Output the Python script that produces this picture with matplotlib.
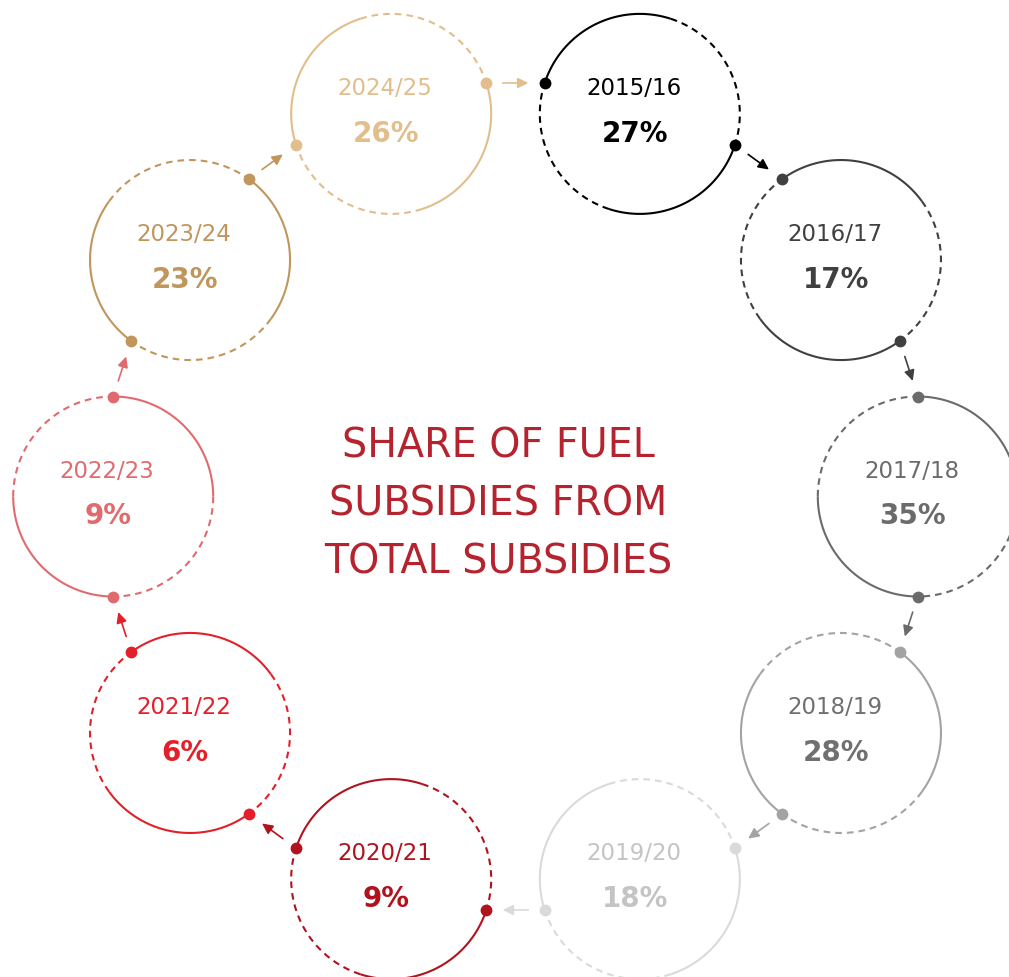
import numpy as np
import matplotlib.pyplot as plt
from matplotlib.patches import FancyArrowPatch

years = ['2015/16', '2016/17', '2017/18', '2018/19', '2019/20',
         '2020/21', '2021/22', '2022/23', '2023/24', '2024/25']
shares = [27, 17, 35, 28, 18, 9, 6, 9, 23, 26]
circle_colors = ['#000000', '#404040', '#6b6b6b', '#a3a3a3', '#dadada',
                 '#b1131d', '#e3202a', '#e06b6f', '#c0965c', '#e1be8c']
text_colors = ['#000000', '#404040', '#6b6b6b', '#707070', '#c4c4c4',
               '#b1131d', '#e3202a', '#e06b6f', '#c0965c', '#e1be8c']
title_lines = ['SHARE OF FUEL', 'SUBSIDIES FROM', 'TOTAL SUBSIDIES']
title_color = '#b5232e'

plt.rcParams['font.family'] = ['DejaVu Sans']

W, H = 1009, 978
fig = plt.figure(figsize=(W / 100, H / 100), dpi=100)
ax = fig.add_axes([0, 0, 1, 1])
ax.set_xlim(0, W)
ax.set_ylim(H, 0)
ax.axis('off')

# ring layout (pixel coords, y down)
ring_cx, ring_cy, ring_r = 515.5, 497.5, 402.3
r = 100
n = len(years)
ang = np.radians(72 - 36 * np.arange(n))
cx = ring_cx + ring_r * np.cos(ang)
cy = ring_cy - ring_r * np.sin(ang)


def pt(i, a):
    return cx[i] + r * np.cos(a), cy[i] - r * np.sin(a)


def arc(i, a0, a1, **kw):
    t = np.linspace(a0, a1, 120)
    ax.plot(cx[i] + r * np.cos(t), cy[i] - r * np.sin(t), **kw)


dash = (0, (3.2, 2.4))
for i in range(n):
    c = circle_colors[i]
    e = ang[i] + np.pi / 2
    q = np.pi / 2
    # quarters: solid / dashed alternating clockwise from the entry dot
    arc(i, e, e - q, color=c, lw=1.5, solid_capstyle='butt')
    arc(i, e - q, e - 2 * q, color=c, lw=1.5, ls=dash)
    arc(i, e - 2 * q, e - 3 * q, color=c, lw=1.5, solid_capstyle='butt')
    arc(i, e - 3 * q, e - 4 * q, color=c, lw=1.5, ls=dash)
    for a in (e, e - 2 * q):
        x, y = pt(i, a)
        ax.plot(x, y, 'o', color=c, ms=8.5, mec='none', zorder=4)

    ax.text(cx[i] - 6, cy[i] - 20, years[i], ha='center', va='baseline',
            fontsize=16.5, color=text_colors[i])
    ax.text(cx[i] - 5, cy[i] + 27, f'{shares[i]}%', ha='center', va='baseline',
            fontsize=20, fontweight='bold', color=text_colors[i])

    # arrow to next circle
    j = (i + 1) % n
    x0, y0 = pt(i, ang[i] - np.pi / 2)
    x1, y1 = pt(j, ang[j] + np.pi / 2)
    sx, sy = x0 + 0.28 * (x1 - x0), y0 + 0.28 * (y1 - y0)
    ex, ey = x0 + 0.72 * (x1 - x0), y0 + 0.72 * (y1 - y0)
    ax.add_patch(FancyArrowPatch((sx, sy), (ex, ey),
                                 arrowstyle='-|>,head_length=0.45,head_width=0.22',
                                 mutation_scale=14, color=c, lw=1.2,
                                 shrinkA=0, shrinkB=0))

for k, line in enumerate(title_lines):
    ax.text(498, 457 + 58 * k, line, ha='center', va='baseline',
            fontsize=28.5, color=title_color)

fig.savefig('out.png', dpi=100)
